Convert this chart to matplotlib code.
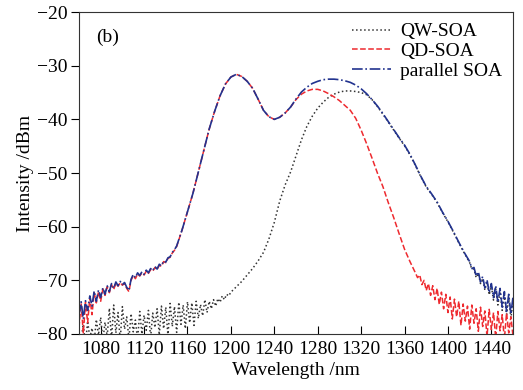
import numpy as np
import matplotlib
matplotlib.use('Agg')
import matplotlib.pyplot as plt

plt.rcParams['font.family'] = ['Liberation Serif', 'DejaVu Serif']
plt.rcParams['axes.unicode_minus'] = True

# ---- data (wavelength in nm, intensity in dBm) ----
# shared left part of QD-SOA and parallel SOA (noisy, 2 nm grid)
left_wl = np.arange(1060, 1152, 2)
left_db = [-76.5, -74.0, -77.2, -73.8, -75.6, -72.9, -74.8, -72.0, -73.9, -71.8,
           -73.2, -71.4, -72.6, -71.0, -72.1, -70.6, -71.5, -70.3, -71.0, -70.2,
           -70.8, -70.4, -71.3, -71.9, -69.8, -68.9, -69.5, -68.6, -69.1, -68.4,
           -68.9, -68.1, -68.6, -67.8, -68.2, -67.4, -67.9, -67.0, -67.3, -66.4,
           -66.6, -65.8, -65.6, -64.8, -64.3, -63.6]
# red copy has a few deeper dips at the far left
left_db_qd = [-78.8, -74.3, -79.9, -74.1, -77.9, -73.2, -76.4, -72.3, -74.2, -72.1,
              -73.9, -71.6, -72.8, -71.2, -72.3, -70.8, -71.7, -70.5, -71.1, -70.4,
              -70.9, -70.6, -71.5, -72.1, -70.0, -69.1, -69.7, -68.8, -69.2, -68.6,
              -69.0, -68.3, -68.7, -68.0, -68.3, -67.6, -68.0, -67.2, -67.4, -66.5,
              -66.7, -65.9, -65.7, -64.9, -64.4, -63.7]

# shared smooth part (5 nm grid)
mid_wl = np.arange(1155, 1260, 5)
mid_db = [-60.6, -57.2, -53.8, -49.8, -45.8, -41.8, -38.5, -35.6, -33.4, -32.1,
          -31.6, -32.0, -32.9, -34.2, -36.2, -38.3, -39.5, -40.0, -39.6, -38.8,
          -37.7]

# QD-SOA right part
qd_wl = np.arange(1260, 1370, 5)
qd_db = [-36.3, -35.3, -34.7, -34.4, -34.4, -34.7, -35.2, -35.8, -36.5, -37.4,
         -38.3, -39.8, -42.0, -44.5, -47.2, -50.0, -52.5, -55.5, -58.3, -61.3,
         -64.2, -66.5]
qd_tail_wl = np.arange(1370, 1462, 2)
qd_tail_db = [-68.6, -69.5, -69.0, -70.8, -70.0, -71.9, -70.6, -72.8, -71.0, -73.6,
              -71.5, -74.5, -72.2, -75.3, -72.6, -76.0, -73.1, -77.2, -73.5, -76.8,
              -73.9, -78.4, -74.4, -77.6, -74.8, -79.1, -74.6, -78.0, -75.3, -79.5,
              -75.0, -78.6, -75.7, -80.5, -75.4, -79.2, -76.0, -80.8, -75.8, -79.4,
              -76.4, -81.0, -76.1, -79.8, -76.8, -80.5]

# parallel SOA right part
par_wl = np.arange(1260, 1420, 5)
par_db = [-36.2, -34.9, -34.0, -33.3, -32.9, -32.6, -32.5, -32.5, -32.6, -32.8,
          -33.1, -33.6, -34.3, -35.2, -36.3, -37.5, -38.9, -40.4, -41.9, -43.4,
          -44.8, -46.5, -48.5, -50.6, -52.5, -53.9, -55.4, -57.3, -59.0, -60.9,
          -62.9, -64.8]
par_tail_wl = np.arange(1420, 1462, 2)
par_tail_db = [-66.5, -67.8, -67.6, -69.2, -68.4, -70.3, -69.3, -71.4, -69.9, -72.3,
               -70.6, -73.2, -71.0, -74.1, -71.5, -75.0, -72.1, -75.8, -72.6, -76.3,
               -73.0]

# QW-SOA
qw_noise_wl = np.arange(1060, 1200, 2)
qw_noise_db = [-79.5, -81.0, -78.2, -82.0, -77.6, -80.8, -78.9, -81.5, -77.3, -80.2,
               -76.9, -81.3, -77.8, -80.4, -75.2, -81.0, -74.6, -79.8, -76.0, -81.2,
               -74.9, -79.1, -76.8, -80.9, -76.2, -79.6, -77.4, -81.1, -75.8, -80.0,
               -76.5, -79.3, -75.6, -80.7, -76.1, -78.8, -75.3, -80.2, -74.8, -79.0,
               -75.0, -80.4, -74.3, -78.6, -74.9, -79.7, -74.1, -78.2, -74.6, -79.0,
               -74.0, -77.9, -74.2, -78.4, -73.9, -77.1, -74.5, -76.6, -73.6, -76.0,
               -73.9, -75.3, -73.6, -74.8, -73.4, -74.1, -72.9, -73.6, -72.6, -72.9]
qw_wl = np.arange(1200, 1420, 5)
qw_db = [-72.2, -71.2, -70.2, -69.0, -67.8, -66.4, -64.8, -62.3, -59.2, -55.2,
         -52.2, -49.8, -46.8, -43.8, -41.3, -39.4, -37.9, -36.8, -35.9, -35.3,
         -34.9, -34.7, -34.7, -34.8, -35.0, -35.4, -36.3, -37.6, -39.0, -40.5,
         -42.0, -43.5, -44.9, -46.6, -48.6, -50.7, -52.6, -54.0, -55.5, -57.4,
         -59.1, -61.0, -63.0, -64.9]
qw_tail_wl = np.arange(1420, 1462, 2)
qw_tail_db = [-66.7, -67.9, -67.9, -69.5, -68.7, -70.6, -69.7, -71.8, -70.3, -72.7,
              -71.1, -73.7, -71.6, -74.6, -72.1, -75.6, -72.7, -76.4, -73.2, -77.0,
              -73.8]

labels = ['QW-SOA', 'QD-SOA', 'parallel SOA']

qw_x = np.concatenate([qw_noise_wl, qw_wl, qw_tail_wl])
qw_y = np.concatenate([qw_noise_db, qw_db, qw_tail_db])
qd_x = np.concatenate([left_wl, mid_wl, qd_wl, qd_tail_wl])
qd_y = np.concatenate([left_db_qd, mid_db, qd_db, qd_tail_db])
par_x = np.concatenate([left_wl, mid_wl, par_wl, par_tail_wl])
par_y = np.concatenate([left_db, mid_db, par_db, par_tail_db])

fig = plt.figure(figsize=(5.23, 3.9), dpi=100)
ax = fig.add_axes([0.151, 0.1436, 0.830, 0.8254])

ax.plot(qw_x, qw_y, ls=':', color='#333333', lw=1.1, label=labels[0])
ax.plot(qd_x, qd_y, ls='--', color='#ee2a2f', lw=1.1, label=labels[1])
ax.plot(par_x, par_y, ls='-.', color='#22338f', lw=1.2, label=labels[2])

ax.set_xlim(1060, 1460)
ax.set_ylim(-80, -20)
ax.set_xticks(np.arange(1080, 1441, 40))
ax.set_yticks(np.arange(-80, -19, 10))
ax.tick_params(axis='x', direction='in', length=6, labelsize=14, pad=5)
ax.tick_params(axis='y', direction='out', length=6, labelsize=14, pad=2)
ax.set_xlabel('Wavelength /nm', fontsize=14, labelpad=3)
ax.set_ylabel('Intensity /dBm', fontsize=14, labelpad=2)
for s in ax.spines.values():
    s.set_color('#333333')

ax.text(0.04, 0.92, '(b)', transform=ax.transAxes, fontsize=14, va='center')
ax.legend(loc='upper right', frameon=False, fontsize=14, handlelength=2.0,
          labelspacing=0.1, borderaxespad=0.15, handletextpad=0.5)

fig.savefig('out.png', dpi=100)
